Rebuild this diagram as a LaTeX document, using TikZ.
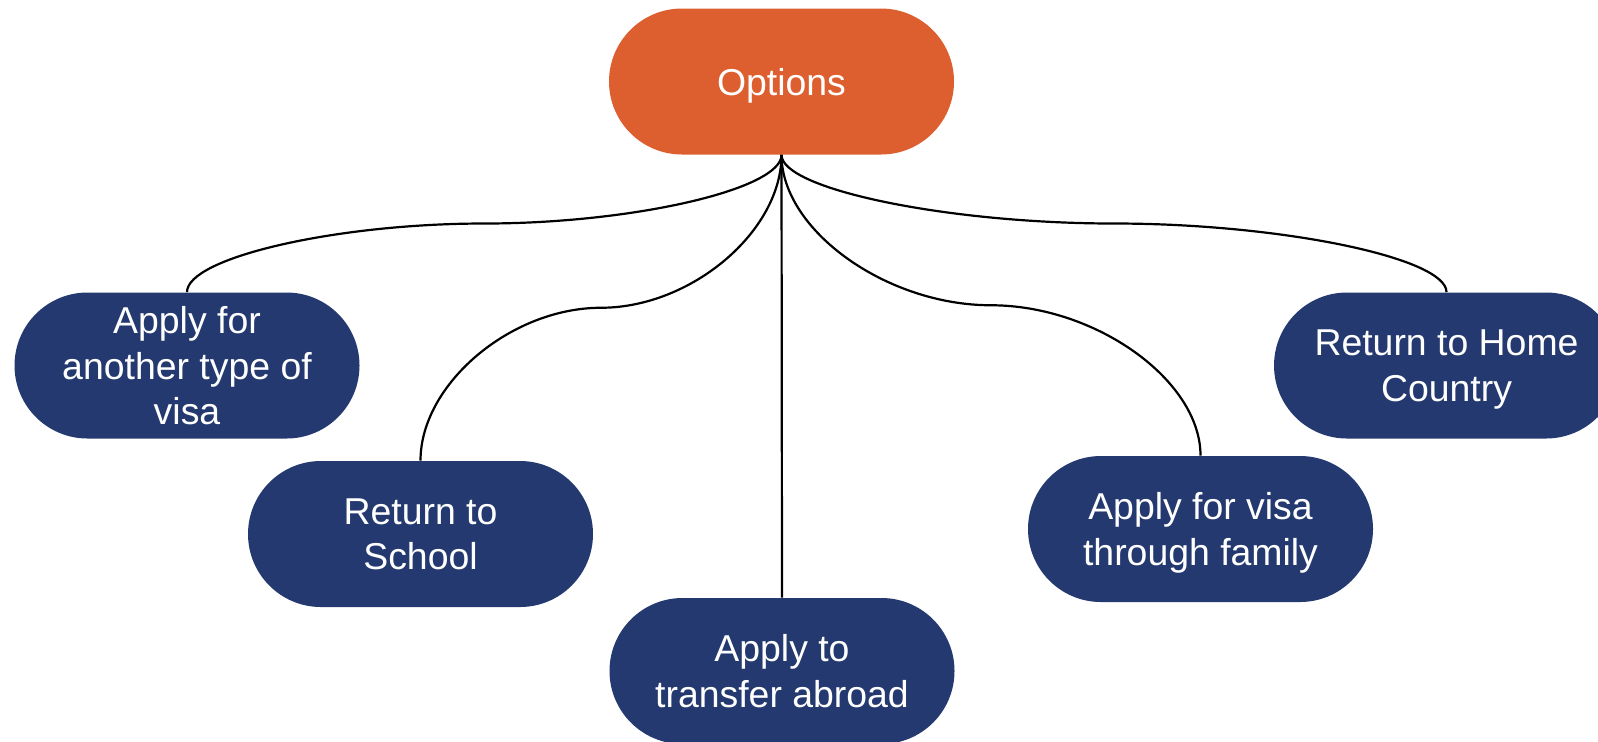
\documentclass[tikz,border=0pt]{standalone}
\usepackage{fontspec}
\setmainfont{Liberation Sans}
\usetikzlibrary{calc}
\definecolor{optorange}{HTML}{DD5E2E}
\definecolor{navybox}{HTML}{23396F}
\tikzset{
  pill/.style={rectangle, rounded corners=36.5pt, minimum width=172.5pt, minimum height=73pt,
    inner sep=0pt, align=center, text=white, text depth=0pt, font=\fontsize{18.7}{22.8}\selectfont},
  optbox/.style={pill, fill=optorange},
  choicebox/.style={pill, fill=navybox},
  conn/.style={draw=black, line width=1.1pt},
  scurve/.style={to path={let \p1=(\tikztostart), \p2=(\tikztotarget) in
    .. controls (\x1,{0.75*\y1+0.25*\y2}) and ({0.75*\x1+0.25*\x2},{0.5*\y1+0.5*\y2})
    .. ({0.5*\x1+0.5*\x2},{0.5*\y1+0.5*\y2})
    .. controls ({0.25*\x1+0.75*\x2},{0.5*\y1+0.5*\y2}) and (\x2,{0.25*\y1+0.75*\y2})
    .. (\x2,\y2) \tikztonodes}}
}
\begin{document}
\begin{tikzpicture}[x=0.5pt,y=-0.5pt]
\useasboundingbox (0,0) rectangle (1598,741);
\node[optbox] (opt) at (781.5,81.5) {Options};
\node[choicebox] (n1) at (187,365.5) {Apply for\\another type of\\visa};
\node[choicebox] (n2) at (420.5,534) {Return to\\School};
\node[choicebox] (n3) at (782,671) {Apply to\\transfer abroad};
\node[choicebox] (n4) at (1200.5,529) {Apply for visa\\through family};
\node[choicebox] (n5) at (1446.5,365.5) {Return to Home\\Country};
\draw[conn] (opt.south) to[scurve] (n1.north);
\draw[conn] (opt.south) to[scurve] (n2.north);
\draw[conn] (opt.south) -- (n3.north);
\draw[conn] (opt.south) to[scurve] (n4.north);
\draw[conn] (opt.south) to[scurve] (n5.north);
\end{tikzpicture}
\end{document}
